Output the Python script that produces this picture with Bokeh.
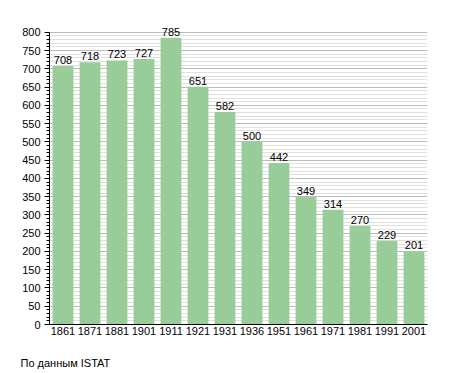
from bokeh.plotting import figure
from bokeh.models import ColumnDataSource, FactorRange, Range1d, SingleIntervalTicker, LabelSet, Title
from bokeh.core.properties import value
from bokeh.embed import file_html
from bokeh.resources import INLINE

years = ["1861", "1871", "1881", "1901", "1911", "1921", "1931", "1936",
         "1951", "1961", "1971", "1981", "1991", "2001"]
population = [708, 718, 723, 727, 785, 651, 582, 500, 442, 349, 314, 270, 229, 201]
caption = "По данным  ISTAT"

src = ColumnDataSource(dict(x=years, y=population, t=[str(v) for v in population]))

p = figure(x_range=FactorRange(*years, range_padding=0), y_range=Range1d(0, 835),
           width=450, height=372, output_backend="svg", toolbar_location=None,
           min_border_left=49, min_border_right=23, min_border_top=19, min_border_bottom=48)
p.outline_line_color = None

p.vbar(x="x", top="y", width=0.77, source=src, fill_color="#98CC98", line_color=None)

labels = LabelSet(x="x", y="y", text="t", source=src, text_align="center",
                  text_baseline="bottom", y_offset=2, text_font_size=value("11px"),
                  text_font=value("Liberation Sans"), text_color="#000000")
p.add_layout(labels)

p.yaxis.ticker = SingleIntervalTicker(interval=50, num_minor_ticks=5)
p.yaxis.bounds = (0, 800)
p.yaxis.major_label_text_font_size = "11px"
p.yaxis.major_label_text_font = "Liberation Sans"
p.yaxis.major_label_text_color = "#000000"
p.yaxis.axis_line_color = "#000000"
p.yaxis.major_tick_line_color = "#000000"
p.yaxis.minor_tick_line_color = "#000000"
p.yaxis.major_tick_out = 5
p.yaxis.minor_tick_out = 3
p.yaxis.major_tick_in = 0
p.yaxis.minor_tick_in = 0
p.yaxis.major_label_standoff = 4

p.xaxis.major_label_text_font_size = "11px"
p.xaxis.major_label_text_font = "Liberation Sans"
p.xaxis.major_label_text_color = "#000000"
p.xaxis.axis_line_color = "#000000"
p.xaxis.major_tick_line_color = None
p.xaxis.minor_tick_line_color = None
p.xaxis.major_tick_out = 0
p.xaxis.major_tick_in = 0
p.xaxis.minor_tick_out = 0
p.xaxis.major_label_standoff = 2
# invisible spacer between the year labels and the source note
p.xaxis.axis_label = " "
p.xaxis.axis_label_text_font_size = "1px"
p.xaxis.axis_label_standoff = 13

p.xgrid.grid_line_color = None
p.ygrid.bounds = (0, 800)
p.ygrid.grid_line_color = "#bbbbbb"
p.ygrid.minor_grid_line_color = "#e0e0e0"
p.ygrid.level = "underlay"

p.add_layout(Title(text=caption, align="left", offset=-29, standoff=0,
                   text_font_size="11px", text_font="Liberation Sans",
                   text_font_style="normal", text_color="#000000"), "below")

open("out.html", "w").write(file_html(p, INLINE))
